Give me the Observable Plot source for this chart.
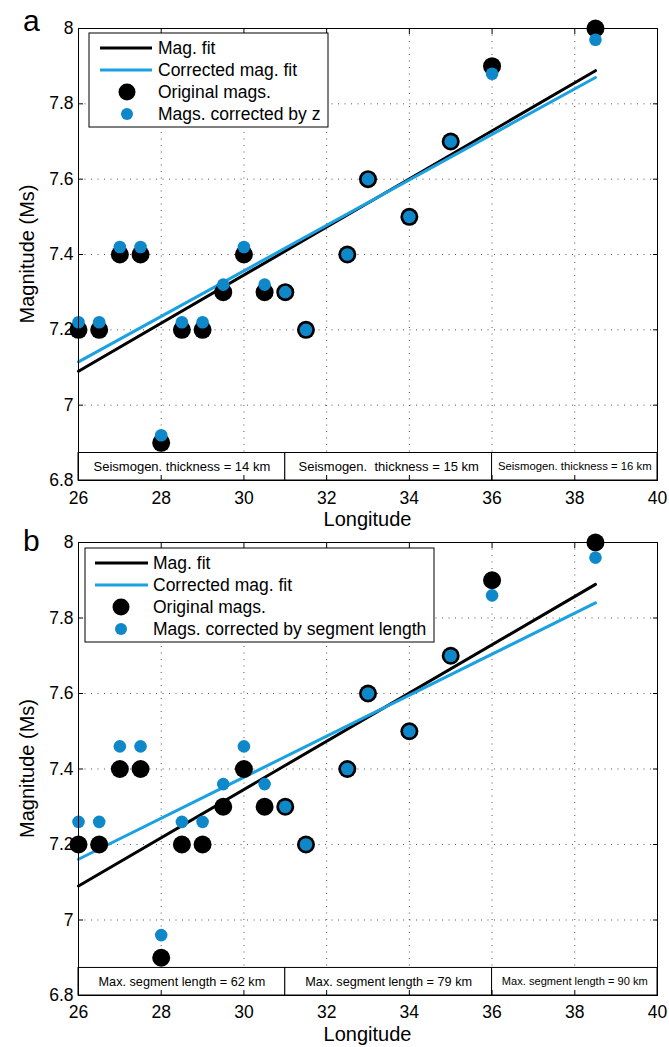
<!DOCTYPE html>
<html><head><meta charset="utf-8">
<script src="https://cdn.jsdelivr.net/npm/d3@7"></script>
<script src="https://cdn.jsdelivr.net/npm/@observablehq/plot@0.6"></script>
<style>
body{margin:0;background:#fff;}
#wrap{width:669px;}
#wrap svg{display:block;}
svg text{white-space:pre;}
</style></head><body><div id="wrap"></div>
<script>
// ---- data ----
const longitude = [26, 26.5, 27, 27.5, 28, 28.5, 29, 29.5, 30, 30.5, 31, 31.5, 32.5, 33, 34, 35, 36, 38.5];
const originalMags = [7.2, 7.2, 7.4, 7.4, 6.9, 7.2, 7.2, 7.3, 7.4, 7.3, 7.3, 7.2, 7.4, 7.6, 7.5, 7.7, 7.9, 8.0];
const magsCorrectedByZ = [7.22, 7.22, 7.42, 7.42, 6.92, 7.22, 7.22, 7.32, 7.42, 7.32, 7.3, 7.2, 7.4, 7.6, 7.5, 7.7, 7.88, 7.97];
const magsCorrectedBySegment = [7.26, 7.26, 7.46, 7.46, 6.96, 7.26, 7.26, 7.36, 7.46, 7.36, 7.3, 7.2, 7.4, 7.6, 7.5, 7.7, 7.86, 7.96];
const fitLongitude = [26, 38.5];
const magFitA = [7.09, 7.888];
const correctedFitA = [7.115, 7.87];
const magFitB = [7.09, 7.889];
const correctedFitB = [7.161, 7.84];
const zoneEdges = [26, 31, 36, 40];
const zoneLabelsA = ["Seismogen. thickness = 14 km", "Seismogen.  thickness = 15 km", "Seismogen. thickness = 16 km"];
const zoneLabelsB = ["Max. segment length = 62 km", "Max. segment length = 79 km", "Max. segment length = 90 km"];
const xTicks = [26, 28, 30, 32, 34, 36, 38, 40];
const yTicks = [6.8, 7, 7.2, 7.4, 7.6, 7.8, 8];
const legendLabelsA = ["Mag. fit", "Corrected mag. fit", "Original mags.", "Mags. corrected by z"];
const legendLabelsB = ["Mag. fit", "Corrected mag. fit", "Original mags.", "Mags. corrected by segment length"];

// ---- styles ----
const FONT = "'Liberation Sans', Arial, Helvetica, sans-serif";
const LINE_BLUE = "#1ba1e2";
const DOT_BLUE = "#0f88c9";
const ZONE_TOP = 6.873;
const W = 669, ML = 78, MR = 12;

function panel(cfg) {
  const pts = longitude.map((x, i) => ({x, orig: originalMags[i], corr: cfg.corrected[i]}));
  const fit = fitLongitude.map((x, i) => ({x, m: cfg.magFit[i], c: cfg.corrFit[i]}));
  const zones = cfg.zoneLabels.map((t, i) => ({x1: zoneEdges[i], x2: zoneEdges[i + 1], text: t, idx: i}));
  const gridStyle = {stroke: "#555", strokeOpacity: 1, strokeWidth: 1, strokeDasharray: "1,5.5"};
  const chart = Plot.plot({
    width: W, height: cfg.height,
    marginTop: cfg.marginTop, marginBottom: cfg.marginBottom, marginLeft: ML, marginRight: MR,
    style: {fontFamily: FONT, background: "white", color: "black", overflow: "visible"},
    x: {domain: [26, 40]},
    y: {domain: [6.8, 8]},
    marks: [
      Plot.gridX(xTicks.slice(1, -1), gridStyle),
      Plot.gridY(yTicks.slice(1, -1), gridStyle),
      Plot.rect(zones, {x1: "x1", x2: "x2", y1: 6.8, y2: ZONE_TOP, fill: "white", stroke: "black", strokeWidth: 1}),
      Plot.text(zones, {x: d => (d.x1 + d.x2) / 2, y: (6.8 + ZONE_TOP) / 2, text: "text",
        fontSize: d => d.idx === 2 ? cfg.smallFont : cfg.zoneFont, fill: "black"}),
      Plot.line(fit, {x: "x", y: "m", stroke: "black", strokeWidth: 3}),
      Plot.line(fit, {x: "x", y: "c", stroke: LINE_BLUE, strokeWidth: 3}),
      Plot.dot(pts, {x: "x", y: "orig", r: 9, fill: "black"}),
      Plot.dot(pts, {x: "x", y: "corr", r: 6.3, fill: DOT_BLUE}),
      Plot.axisX(xTicks, {anchor: "bottom", tickSize: -5, tickPadding: cfg.tickPad, fontSize: 17.5, label: null, tickFormat: d => String(d)}),
      Plot.axisX(xTicks, {anchor: "top", tickSize: -5, tickFormat: () => "", label: null}),
      Plot.axisY(yTicks, {anchor: "left", tickSize: -5, tickPadding: 10, fontSize: 17.5, label: null, tickFormat: d => String(+d.toFixed(1))}),
      Plot.axisY(yTicks, {anchor: "right", tickSize: -5, tickFormat: () => "", label: null}),
      Plot.frame({stroke: "black", strokeWidth: 1})
    ]
  });

  const svg = d3.select(chart);
  const frameBottom = cfg.height - cfg.marginBottom;
  const g = svg.append("g").attr("font-family", FONT).attr("fill", "black").attr("text-anchor", "start");
  // panel letter
  g.append("text").attr("x", 23).attr("y", cfg.letterY).attr("font-size", 30).text(cfg.letter);
  // axis titles
  g.append("text").attr("x", (ML + W - MR) / 2).attr("y", frameBottom + 46)
    .attr("text-anchor", "middle").attr("font-size", 20).text("Longitude");
  const cy = (cfg.marginTop + frameBottom) / 2;
  g.append("text").attr("transform", `translate(27,${cy}) rotate(-90)`)
    .attr("text-anchor", "middle").attr("dy", "0.36em").attr("font-size", 20).text("Magnitude (Ms)");

  // legend
  const L = cfg.legend;
  const top = cfg.marginTop + L.offset;
  const lg = g.append("g").attr("font-size", 17.5).attr("text-anchor", "start");
  lg.append("rect").attr("x", L.x).attr("y", top).attr("width", L.w).attr("height", 94)
    .attr("fill", "white").attr("stroke", "black").attr("stroke-width", 1);
  const rows = [15, 37, 59, 81].map(d => top + d);
  lg.append("line").attr("x1", L.lineX1).attr("x2", L.lineX2).attr("y1", rows[0]).attr("y2", rows[0])
    .attr("stroke", "black").attr("stroke-width", 3);
  lg.append("line").attr("x1", L.lineX1).attr("x2", L.lineX2).attr("y1", rows[1]).attr("y2", rows[1])
    .attr("stroke", LINE_BLUE).attr("stroke-width", 3);
  lg.append("circle").attr("cx", L.cx).attr("cy", rows[2]).attr("r", 8.5).attr("fill", "black");
  lg.append("circle").attr("cx", L.cx).attr("cy", rows[3]).attr("r", 6).attr("fill", DOT_BLUE);
  cfg.legendLabels.forEach((t, i) => {
    lg.append("text").attr("x", L.textX).attr("y", rows[i]).attr("dy", "0.35em")
      .attr("text-anchor", "start").text(t);
  });
  return chart;
}

const wrap = document.getElementById("wrap");
wrap.appendChild(panel({
  letter: "a", letterY: 31, height: 530, marginTop: 28, marginBottom: 50, tickPad: 16,
  corrected: magsCorrectedByZ, magFit: magFitA, corrFit: correctedFitA,
  zoneLabels: zoneLabelsA, zoneFont: 13, smallFont: 11.3,
  legendLabels: legendLabelsA,
  legend: {x: 89, w: 239, offset: 5, lineX1: 100, lineX2: 152, cx: 127, textX: 158}
}));
wrap.appendChild(panel({
  letter: "b", letterY: 21, height: 517, marginTop: 12, marginBottom: 52, tickPad: 15,
  corrected: magsCorrectedBySegment, magFit: magFitB, corrFit: correctedFitB,
  zoneLabels: zoneLabelsB, zoneFont: 12.7, smallFont: 11.1,
  legendLabels: legendLabelsB,
  legend: {x: 85, w: 349, offset: 6, lineX1: 95, lineX2: 148, cx: 121, textX: 153}
}));
</script></body></html>
